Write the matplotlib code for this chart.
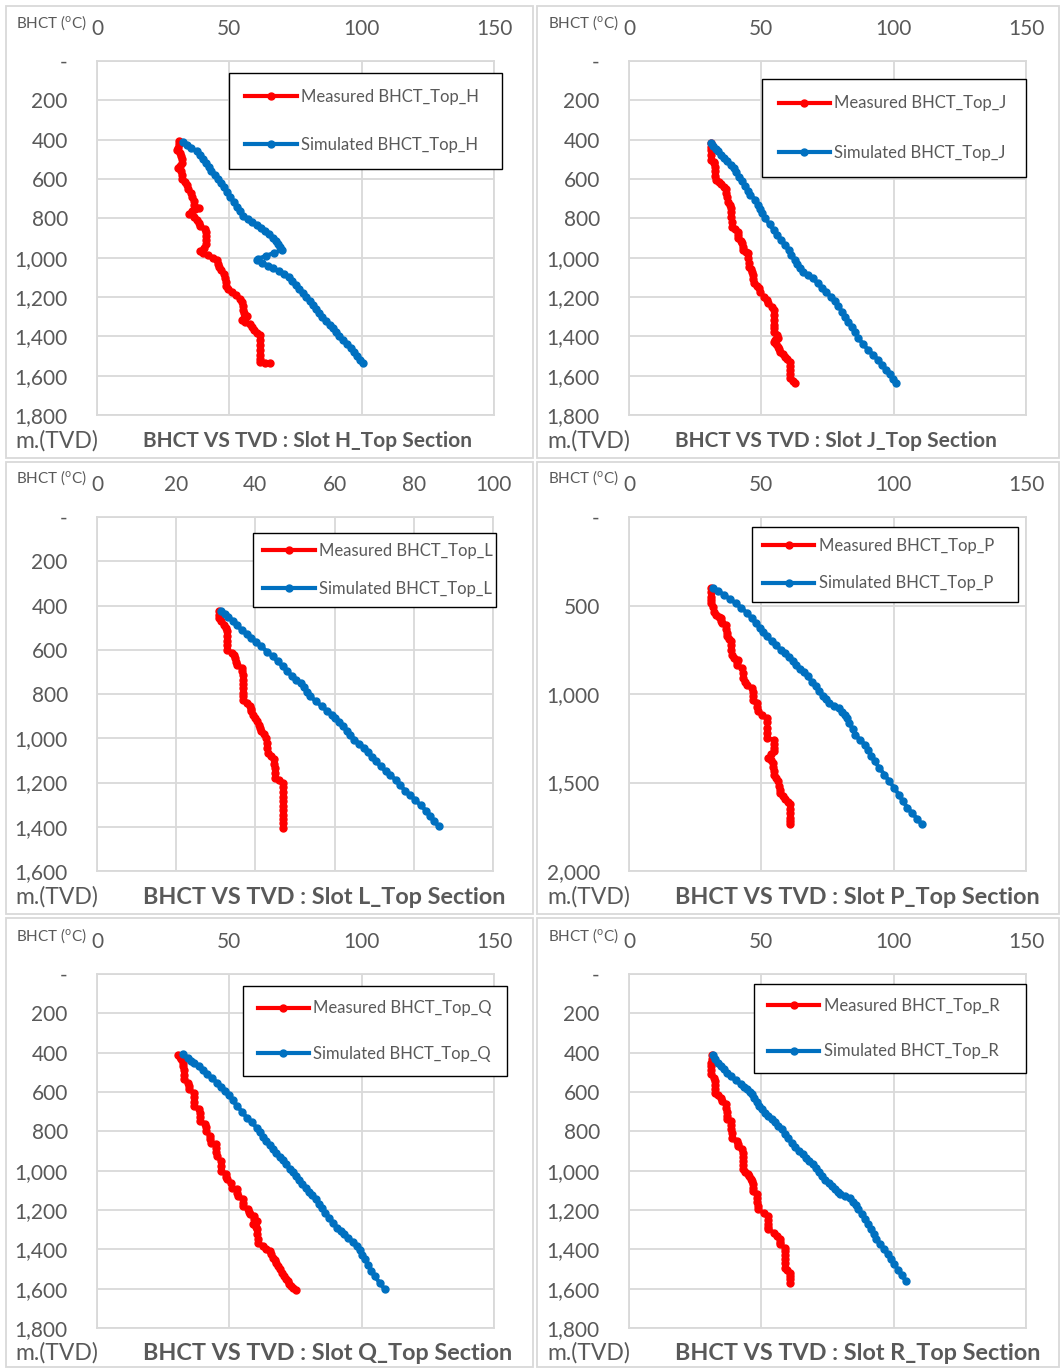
import matplotlib
matplotlib.use('Agg')
import matplotlib.pyplot as plt
from matplotlib.patches import Rectangle

plt.rcParams['font.family'] = ['Lato', 'DejaVu Sans']
plt.rcParams['mathtext.fontset'] = 'custom'
plt.rcParams['mathtext.rm'] = 'Lato'
plt.rcParams['mathtext.it'] = 'Lato:italic'
plt.rcParams['mathtext.bf'] = 'Lato:bold'

# ---------------- DATA (depth m TVD, temperature degC) ----------------
h_meas_depth = [405, 420, 440, 455, 470, 485, 500, 520, 535, 545, 560, 580, 600, 615, 630, 650, 670, 690,
                710, 730, 745, 755, 765, 780, 795, 810, 825, 840, 855, 870, 890, 910, 930, 950, 965, 975,
                985, 1000, 1010, 1030, 1045, 1065, 1085, 1105, 1125, 1145, 1160, 1175, 1190, 1210, 1225,
                1245, 1265, 1280, 1295, 1305, 1315, 1325, 1335, 1350, 1370, 1385, 1395, 1420, 1445, 1470,
                1495, 1515, 1532, 1534, 1535]
h_meas_temp = [31.0, 30.8, 30.5, 30.4, 31.5, 31.8, 32.0, 32.2, 31.5, 30.6, 31.8, 32.2, 32.3, 33.2, 34.1,
               34.4, 35.6, 36.0, 36.6, 36.8, 38.4, 37.0, 35.8, 34.7, 36.5, 37.8, 38.5, 39.1, 40.8, 41.2,
               41.3, 41.3, 41.2, 40.5, 38.8, 40.0, 41.8, 44.0, 45.2, 45.7, 46.0, 46.8, 48.0, 48.5, 48.6,
               48.8, 49.5, 50.9, 52.5, 54.0, 54.8, 55.0, 55.2, 55.6, 56.5, 55.5, 54.6, 56.0, 57.7, 58.5,
               59.2, 60.5, 61.4, 61.4, 61.4, 61.4, 61.4, 61.4, 61.4, 63.5, 65.2]
h_sim_depth = [410, 425, 440, 460, 480, 500, 520, 540, 560, 580, 600, 620, 640, 665, 690, 715, 740, 765,
               790, 805, 820, 835, 850, 865, 880, 900, 915, 930, 945, 960, 975, 990, 1005, 1012, 1025,
               1040, 1055, 1070, 1085, 1100, 1120, 1140, 1160, 1180, 1200, 1220, 1240, 1260, 1280, 1300,
               1320, 1340, 1360, 1380, 1400, 1420, 1440, 1460, 1480, 1500, 1520, 1536]
h_sim_temp = [32.6, 34.0, 35.5, 37.8, 38.8, 40.0, 41.2, 42.3, 43.2, 44.5, 45.6, 46.7, 47.8, 49.1, 50.4,
              51.6, 52.8, 54.0, 55.3, 57.0, 58.6, 60.3, 61.9, 63.5, 65.0, 66.5, 67.8, 68.3, 69.2, 70.0,
              67.0, 64.0, 61.0, 60.3, 62.5, 64.5, 66.5, 68.8, 70.5, 72.5, 73.8, 75.0, 76.3, 77.8, 79.0,
              80.5, 81.7, 82.8, 84.0, 85.2, 86.5, 88.0, 89.2, 90.2, 91.3, 92.8, 94.5, 96.0, 97.0, 98.3,
              99.5, 100.6]

j_meas_depth = [415, 435, 455, 480, 503, 512, 520, 540, 560, 585, 605, 615, 625, 640, 650, 670, 690, 715,
                730, 749, 770, 795, 820, 842, 855, 868, 885, 902, 915, 927, 945, 961, 970, 978, 1000, 1025,
                1046, 1060, 1071, 1090, 1110, 1131, 1145, 1156, 1175, 1198, 1215, 1232, 1250, 1266, 1290,
                1315, 1340, 1360, 1376, 1395, 1410, 1420, 1427, 1440, 1453, 1465, 1478, 1490, 1503, 1515,
                1529, 1550, 1570, 1590, 1614, 1625, 1639]
j_meas_temp = [30.9, 30.9, 30.9, 30.9, 30.9, 32.0, 32.3, 32.4, 32.5, 32.6, 32.8, 34.0, 34.8, 36.0, 36.7,
               36.8, 37.0, 37.3, 38.0, 38.5, 38.6, 38.7, 38.8, 38.8, 40.0, 41.0, 41.1, 41.2, 42.2, 42.8,
               43.0, 43.1, 44.2, 44.9, 45.0, 45.2, 45.3, 46.0, 46.5, 46.8, 47.0, 47.2, 48.2, 49.0, 49.5,
               50.9, 52.0, 52.7, 54.0, 54.8, 54.8, 54.8, 54.8, 54.8, 54.8, 55.8, 56.4, 55.0, 54.6, 55.5,
               56.4, 56.7, 57.0, 58.0, 58.9, 59.8, 60.7, 60.8, 60.9, 61.0, 61.0, 61.8, 62.6]
j_sim_depth = [415, 430, 445, 460, 478, 495, 510, 529, 545, 565, 588, 610, 635, 660, 681, 705, 730, 755,
               775, 800, 830, 859, 885, 910, 936, 960, 985, 1012, 1030, 1050, 1071, 1088, 1105, 1130,
               1156, 1176, 1198, 1220, 1245, 1275, 1300, 1325, 1351, 1380, 1410, 1440, 1470, 1495, 1520,
               1545, 1571, 1590, 1615, 1639]
j_sim_temp = [30.9, 31.9, 32.9, 33.8, 34.8, 36.0, 37.2, 38.5, 39.5, 40.4, 41.6, 42.7, 43.8, 44.8, 45.9,
              47.7, 48.7, 49.5, 50.2, 51.5, 53.1, 54.6, 56.0, 57.5, 58.9, 60.3, 61.3, 62.6, 63.6, 64.6,
              65.7, 67.5, 69.4, 71.3, 73.1, 74.6, 76.2, 77.7, 79.0, 80.5, 81.8, 82.9, 84.2, 85.4, 86.7,
              88.5, 90.4, 92.3, 94.1, 95.6, 97.2, 98.6, 99.7, 100.9]

l_meas_depth = [427, 445, 457, 472, 487, 500, 517, 540, 560, 580, 600, 615, 625, 638, 655, 668, 683, 698,
                713, 735, 755, 775, 795, 810, 826, 840, 856, 868, 878, 893, 908, 923, 938, 955, 968, 983,
                998, 1020, 1045, 1066, 1080, 1096, 1115, 1135, 1158, 1179, 1190, 1202, 1222, 1245, 1265,
                1285, 1305, 1325, 1345, 1365, 1385, 1405]
l_meas_temp = [30.7, 30.7, 30.7, 31.4, 32.0, 32.5, 32.8, 32.8, 32.8, 32.8, 32.8, 34.0, 34.5, 34.9, 35.1,
               35.3, 36.5, 36.7, 36.9, 36.9, 36.9, 36.9, 36.9, 36.9, 36.9, 37.9, 38.6, 38.8, 39.0, 39.4,
               39.8, 40.4, 40.8, 41.1, 41.3, 42.2, 42.7, 42.9, 43.0, 43.1, 44.0, 44.8, 44.8, 44.9, 44.9,
               44.9, 46.0, 46.9, 47.0, 47.0, 47.0, 47.0, 47.0, 47.0, 47.0, 47.0, 47.0, 47.0]
l_sim_depth = [427, 440, 450, 470, 490, 510, 528, 547, 565, 585, 608, 630, 652, 675, 698, 720, 735, 750,
               770, 790, 811, 833, 856, 875, 893, 910, 928, 946, 966, 986, 1006, 1025, 1044, 1064, 1084,
               1104, 1127, 1149, 1168, 1187, 1213, 1239, 1258, 1277, 1303, 1329, 1350, 1375, 1397]
l_sim_temp = [31.2, 32.2, 33.2, 34.3, 35.4, 36.5, 37.8, 39.0, 40.2, 41.5, 42.9, 44.4, 45.6, 46.9, 48.1,
              49.3, 50.3, 51.4, 52.2, 53.0, 53.9, 55.3, 56.8, 58.0, 59.3, 60.2, 61.2, 62.1, 63.1, 64.0,
              65.0, 66.2, 67.5, 68.4, 69.4, 70.4, 71.7, 72.9, 74.1, 75.4, 76.6, 77.9, 79.1, 80.3, 81.7,
              83.2, 84.1, 85.1, 86.3]

p_meas_depth = [402, 425, 450, 470, 487, 510, 534, 553, 563, 571, 585, 600, 609, 630, 655, 675, 690, 703,
                725, 750, 778, 797, 806, 820, 835, 853, 880, 910, 930, 947, 966, 990, 1010, 1032, 1051,
                1075, 1098, 1117, 1135, 1160, 1190, 1220, 1248, 1258, 1285, 1305, 1323, 1340, 1361, 1375,
                1389, 1410, 1435, 1455, 1475, 1493, 1520, 1540, 1558, 1577, 1596, 1610, 1624, 1650, 1675,
                1700, 1720, 1737]
p_meas_temp = [31.1, 31.0, 30.9, 30.8, 30.8, 31.6, 32.3, 32.9, 33.9, 34.6, 34.9, 35.1, 36.7, 36.8, 36.9,
               37.0, 37.8, 38.5, 38.6, 38.7, 38.8, 39.8, 41.0, 40.8, 40.7, 42.8, 43.0, 43.1, 44.0, 44.7,
               46.5, 46.7, 46.8, 46.9, 48.4, 48.5, 48.6, 50.2, 52.1, 52.2, 52.2, 52.3, 52.3, 54.6, 54.7,
               54.8, 54.8, 53.5, 52.7, 53.5, 54.3, 54.5, 54.7, 54.8, 55.6, 56.4, 56.7, 56.9, 57.0, 58.0,
               58.9, 60.0, 61.0, 61.0, 61.0, 61.0, 61.0, 61.0]
p_sim_depth = [402, 420, 440, 465, 487, 515, 543, 570, 600, 628, 650, 675, 703, 725, 750, 769, 790, 812,
               834, 856, 878, 900, 930, 957, 985, 1010, 1030, 1051, 1065, 1079, 1100, 1120, 1135, 1165,
               1200, 1229, 1258, 1286, 1315, 1348, 1380, 1418, 1455, 1492, 1530, 1568, 1605, 1643, 1675,
               1705, 1737]
p_sim_temp = [31.7, 33.8, 36.0, 38.2, 40.4, 42.5, 44.7, 46.3, 48.0, 49.6, 50.8, 52.0, 54.0, 55.6, 57.3,
              58.9, 60.3, 61.8, 63.2, 64.6, 66.0, 67.5, 69.1, 70.5, 71.9, 73.3, 74.4, 75.6, 77.4, 79.3,
              80.6, 81.6, 82.3, 83.3, 84.5, 85.4, 87.2, 89.1, 90.3, 91.6, 92.8, 94.6, 96.5, 98.3, 100.2,
              101.9, 103.5, 105.2, 107.1, 108.9, 110.7]

q_meas_depth = [414, 424, 434, 451, 470, 490, 515, 536, 553, 570, 586, 603, 625, 650, 671, 688, 705, 725,
                747, 764, 780, 798, 824, 840, 858, 866, 885, 905, 925, 951, 975, 1002, 1019, 1030, 1044,
                1061, 1086, 1095, 1112, 1129, 1146, 1163, 1180, 1197, 1210, 1222, 1231, 1245, 1256, 1273,
                1285, 1298, 1320, 1345, 1366, 1383, 1396, 1409, 1425, 1442, 1455, 1468, 1485, 1502, 1520,
                1536, 1550, 1561, 1575, 1586, 1597, 1607]
q_meas_temp = [30.5, 31.2, 31.8, 32.4, 32.6, 32.7, 32.8, 32.8, 34.5, 34.7, 34.9, 36.5, 36.6, 36.7, 36.7,
               38.6, 38.8, 38.9, 39.0, 40.7, 41.0, 41.1, 42.7, 42.8, 42.9, 44.8, 45.0, 45.1, 45.2, 46.7,
               46.7, 46.7, 48.6, 48.8, 49.0, 50.5, 51.0, 52.8, 53.0, 53.1, 55.1, 55.2, 55.3, 57.2, 57.5,
               57.8, 59.3, 59.5, 60.3, 58.8, 60.0, 60.5, 60.6, 60.8, 60.9, 62.7, 64.0, 65.3, 65.9, 66.5,
               67.2, 67.8, 68.4, 69.0, 69.9, 70.8, 71.5, 72.1, 72.7, 73.3, 74.2, 75.2]
q_sim_depth = [408, 425, 440, 451, 470, 490, 510, 530, 553, 575, 595, 615, 640, 671, 700, 731, 755, 781,
               805, 827, 849, 870, 890, 908, 928, 948, 968, 990, 1007, 1027, 1047, 1066, 1086, 1106, 1126,
               1146, 1168, 1191, 1214, 1240, 1265, 1290, 1305, 1320, 1341, 1362, 1383, 1405, 1428, 1451,
               1480, 1508, 1536, 1570, 1603]
q_sim_temp = [32.4, 34.2, 35.7, 36.7, 38.4, 40.0, 41.7, 43.5, 45.4, 47.0, 48.5, 49.8, 51.2, 52.9, 54.8,
              56.6, 58.5, 60.3, 61.7, 62.9, 64.0, 65.3, 66.5, 67.7, 69.0, 70.2, 71.5, 72.9, 74.0, 75.2,
              76.4, 77.6, 78.9, 80.1, 81.3, 82.6, 83.8, 85.0, 86.3, 87.8, 89.2, 90.7, 92.2, 93.5, 95.0,
              96.6, 98.1, 99.2, 100.2, 101.2, 102.5, 103.7, 104.9, 106.8, 108.7]

r_meas_depth = [414, 430, 450, 470, 490, 510, 527, 545, 565, 585, 603, 615, 629, 646, 663, 680, 700, 720,
                739, 747, 770, 790, 810, 832, 849, 862, 875, 892, 910, 930, 950, 970, 993, 1005, 1019, 1027,
                1040, 1053, 1070, 1087, 1103, 1120, 1140, 1160, 1180, 1197, 1214, 1231, 1250, 1270, 1285,
                1298, 1315, 1332, 1349, 1362, 1375, 1392, 1410, 1430, 1450, 1470, 1493, 1505, 1519, 1535,
                1552, 1570]
r_meas_temp = [31.4, 31.2, 31.1, 31.0, 30.9, 30.9, 32.3, 32.4, 32.5, 32.6, 32.6, 33.8, 34.6, 35.1, 36.7,
               36.8, 36.9, 37.0, 37.0, 38.5, 38.6, 38.7, 38.8, 38.8, 40.7, 41.0, 41.2, 42.8, 42.9, 43.0,
               43.0, 43.1, 43.1, 44.0, 44.9, 45.3, 46.0, 46.5, 46.7, 46.8, 46.9, 48.4, 48.5, 48.5, 48.6,
               48.6, 50.9, 52.7, 52.7, 52.7, 52.7, 52.7, 54.8, 55.8, 57.0, 57.0, 57.0, 58.9, 58.9, 58.9,
               58.9, 58.9, 58.9, 59.8, 60.7, 60.8, 60.9, 61.0]
r_sim_depth = [414, 430, 450, 468, 485, 502, 519, 540, 561, 575, 586, 600, 612, 630, 650, 670, 688, 705,
               722, 739, 755, 772, 790, 812, 835, 858, 878, 898, 917, 935, 951, 968, 987, 1007, 1027, 1045,
               1062, 1078, 1092, 1106, 1120, 1130, 1137, 1157, 1177, 1197, 1222, 1248, 1273, 1298, 1324,
               1349, 1375, 1400, 1426, 1451, 1476, 1504, 1533, 1561]
r_sim_temp = [31.6, 32.5, 33.8, 34.8, 36.0, 37.2, 38.5, 40.3, 42.2, 43.4, 44.7, 45.6, 46.5, 47.4, 48.4,
              49.3, 50.2, 51.5, 52.7, 54.0, 55.2, 56.4, 57.7, 58.9, 60.1, 61.4, 62.8, 64.3, 65.7, 66.9,
              68.1, 69.4, 70.6, 71.9, 73.1, 74.2, 75.5, 76.8, 77.9, 78.9, 79.9, 81.5, 83.6, 84.6, 85.7,
              86.7, 88.0, 89.2, 90.4, 91.4, 92.5, 93.5, 95.0, 96.5, 97.7, 99.0, 100.2, 101.7, 103.1, 104.6]

slots = ['H', 'J', 'L', 'P', 'Q', 'R']
x_ticks_150 = [0, 50, 100, 150]
x_ticks_100 = [0, 20, 40, 60, 80, 100]
y_ticks_1800 = [0, 200, 400, 600, 800, 1000, 1200, 1400, 1600, 1800]
y_ticks_1600 = [0, 200, 400, 600, 800, 1000, 1200, 1400, 1600]
y_ticks_2000 = [0, 500, 1000, 1500, 2000]

# ---------------- LAYOUT ----------------
W, H = 1060, 1369
fig = plt.figure(figsize=(W / 100, H / 100), dpi=100)
TXT = '#595959'
GRID = '#D9D9D9'
RED = '#FF0000'
BLUE = '#0070C0'


def fx(px):
    return px / W


def fy(py):
    return 1 - py / H


col_x = [(6, 533), (537, 1059)]
row_y = [(6, 458), (462, 914), (918, 1367)]
for (x0, x1) in col_x:
    for (y0, y1) in row_y:
        fig.add_artist(Rectangle((fx(x0), fy(y1)), (x1 - x0) / W, (y1 - y0) / H,
                                 transform=fig.transFigure, fill=False,
                                 edgecolor=GRID, lw=1.3))

panels = [
    dict(slot='H', md=h_meas_depth, mt=h_meas_temp, sd=h_sim_depth, st=h_sim_temp,
         xt=x_ticks_150, yt=y_ticks_1800, ax=(97, 61, 494, 415), col=0, row=0,
         leg=(229, 73, 502, 169), rs=48, tsize=15),
    dict(slot='J', md=j_meas_depth, mt=j_meas_temp, sd=j_sim_depth, st=j_sim_temp,
         xt=x_ticks_150, yt=y_ticks_1800, ax=(629, 61, 1026, 415), col=1, row=0,
         leg=(762, 79, 1026, 177), rs=49, tsize=15),
    dict(slot='L', md=l_meas_depth, mt=l_meas_temp, sd=l_sim_depth, st=l_sim_temp,
         xt=x_ticks_100, yt=y_ticks_1600, ax=(97, 517, 493, 871), col=0, row=1,
         leg=(253, 533, 496, 607), rs=37.6, tsize=16.8),
    dict(slot='P', md=p_meas_depth, mt=p_meas_temp, sd=p_sim_depth, st=p_sim_temp,
         xt=x_ticks_150, yt=y_ticks_2000, ax=(629, 517, 1026, 871), col=1, row=1,
         leg=(752, 527, 1018, 602), rs=37.6, tsize=16.8),
    dict(slot='Q', md=q_meas_depth, mt=q_meas_temp, sd=q_sim_depth, st=q_sim_temp,
         xt=x_ticks_150, yt=y_ticks_1800, ax=(97, 974, 494, 1328), col=0, row=2,
         leg=(243, 986, 507, 1076), rs=45, tsize=16.8),
    dict(slot='R', md=r_meas_depth, mt=r_meas_temp, sd=r_sim_depth, st=r_sim_temp,
         xt=x_ticks_150, yt=y_ticks_1800, ax=(629, 974, 1026, 1328), col=1, row=2,
         leg=(754, 984, 1026, 1073), rs=45.7, tsize=16.8),
]

bhct_y = [23, 478, 936]
bottom_y = [441, 897, 1353]
LEG_FS = 12
fs_px = LEG_FS * 100 / 72
th_px = 0.95 * fs_px

for p in panels:
    l, t, r, b = p['ax']
    ax = fig.add_axes([fx(l), fy(b), (r - l) / W, (b - t) / H])
    ax.plot(p['mt'], p['md'], color=RED, lw=3.0, marker='o', ms=5,
            label='Measured BHCT_Top_' + p['slot'], zorder=3)
    ax.plot(p['st'], p['sd'], color=BLUE, lw=3.0, marker='o', ms=5,
            label='Simulated BHCT_Top_' + p['slot'], zorder=3)
    ax.set_xlim(p['xt'][0], p['xt'][-1])
    ax.set_ylim(p['yt'][-1], p['yt'][0])
    ax.xaxis.tick_top()
    ax.set_xticks(p['xt'])
    ax.set_yticks(p['yt'])
    ax.set_xticklabels([str(v) for v in p['xt']])
    ax.set_yticklabels(['-'] + [f'{v:,}' for v in p['yt'][1:]])
    ax.grid(True, color=GRID, lw=1.3)
    ax.set_axisbelow(True)
    for s in ax.spines.values():
        s.set_color(GRID)
        s.set_linewidth(1.3)
    ax.tick_params(axis='x', length=0, labelsize=15, colors=TXT, pad=15.5)
    ax.tick_params(axis='y', length=0, labelsize=15, colors=TXT, pad=21)

    # legend
    lx0, ly0, lx1, ly1 = p['leg']
    rs = p['rs']
    hbox = ly1 - ly0
    ls = (rs - th_px) / fs_px
    bp = (hbox - 2 * th_px - (rs - th_px)) / (2 * fs_px)
    leg = ax.legend(loc='upper left',
                    bbox_to_anchor=(fx(lx0), fy(ly0), (lx1 - lx0) / W, 0.0001),
                    bbox_transform=fig.transFigure, mode='expand', borderaxespad=0,
                    fontsize=LEG_FS, labelspacing=ls, borderpad=bp,
                    handlelength=3.1, handletextpad=0.25, fancybox=False,
                    framealpha=1, edgecolor='black', labelcolor=TXT)
    leg.get_frame().set_linewidth(1.0)

    xoff = 0 if p['col'] == 0 else 532
    fig.text(fx(16 + xoff), fy(bhct_y[p['row']]), r'BHCT ($^{\mathrm{o}}$C)',
             fontsize=11, color=TXT, ha='left', va='center')
    fig.text(fx(15 + xoff), fy(bottom_y[p['row']]), 'm.(TVD)',
             fontsize=16.5, color=TXT, ha='left', va='center')
    fig.text(fx(143 + xoff), fy(bottom_y[p['row']]),
             'BHCT VS TVD : Slot ' + p['slot'] + '_Top Section',
             fontsize=p['tsize'], fontweight='bold', color=TXT, ha='left', va='center')

fig.savefig('out.png', dpi=100, facecolor='white')
